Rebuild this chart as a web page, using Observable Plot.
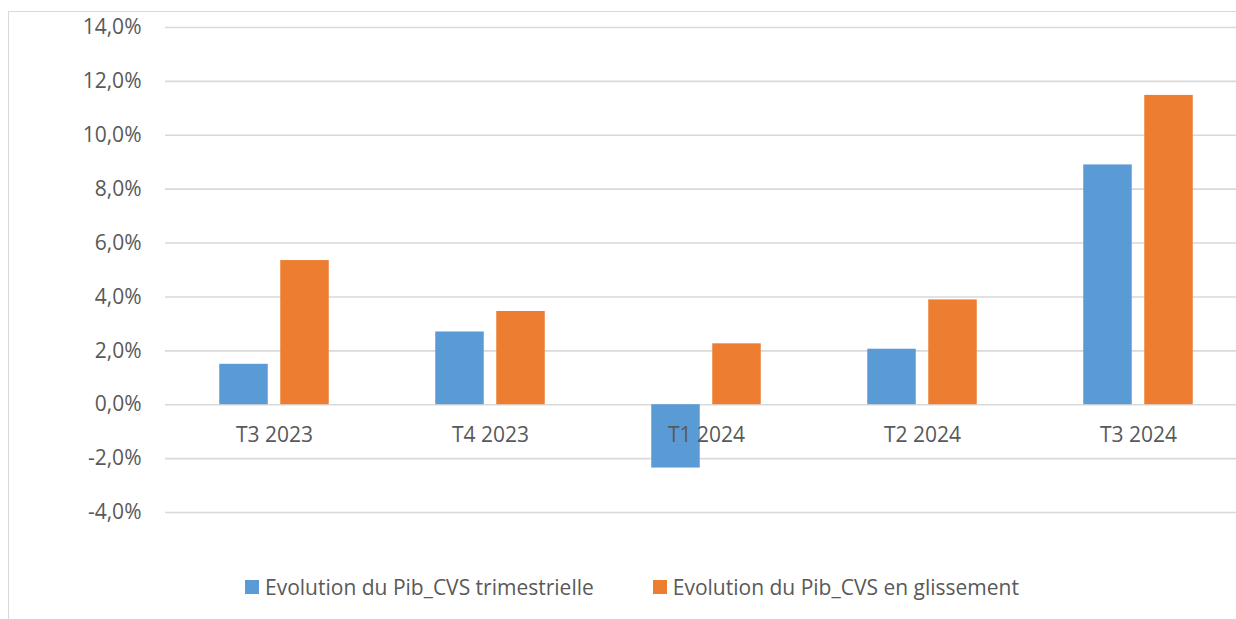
<!DOCTYPE html>
<html>
<head>
<meta charset="utf-8">
<script src="https://cdn.jsdelivr.net/npm/d3@7"></script>
<script src="https://cdn.jsdelivr.net/npm/@observablehq/plot@0.6"></script>
<style>
  html, body { margin: 0; padding: 0; background: #fff; }
  #wrap { position: relative; width: 1236px; height: 619px; overflow: hidden; font-family: "Open Sans", sans-serif; }
  #frame { position: absolute; left: 8px; top: 11px; width: 1300px; height: 700px; border-left: 1.5px solid #d9d9d9; border-top: 1.5px solid #d9d9d9; box-sizing: border-box; }
  #chart { position: absolute; left: 0; top: 0; }
  #legend { position: absolute; left: 245px; top: 573px; display: flex; align-items: center; font-size: 21px; color: #595959; white-space: nowrap; }
  .item { display: flex; align-items: center; }
  .sw { width: 14px; height: 14px; margin-right: 6px; }
</style>
</head>
<body>
<div id="wrap">
  <div id="frame"></div>
  <div id="chart"></div>
  <div id="legend"></div>
</div>
<script>
const categories = ["T3 2023", "T4 2023", "T1 2024", "T2 2024", "T3 2024"];
const seriesNames = ["Evolution du Pib_CVS trimestrielle", "Evolution du Pib_CVS en glissement"];
const trimestrielle = [1.5, 2.7, -2.35, 2.06, 8.9];
const glissement = [5.35, 3.46, 2.26, 3.89, 11.48];
const yTicks = [-4, -2, 0, 2, 4, 6, 8, 10, 12, 14];
const colors = ["#5b9bd5", "#ed7d31"];

const rowsA = categories.map((c, i) => ({cat: c, value: trimestrielle[i]}));
const rowsB = categories.map((c, i) => ({cat: c, value: glissement[i]}));
const fmt = d => d.toFixed(1).replace(".", ",") + "%";

const W = 1236;
const plot = Plot.plot({
  width: W,
  height: 560,
  marginLeft: 165,
  marginRight: -11,
  marginTop: 27,
  marginBottom: 48,
  style: {fontFamily: "'Open Sans', sans-serif", fontSize: "21px", color: "#595959", background: "transparent"},
  x: {domain: categories, padding: 0, axis: null},
  y: {domain: [-4, 14], ticks: yTicks, tickFormat: fmt, tickSize: 0, tickPadding: 24, label: null},
  marks: [
    Plot.ruleY(yTicks, {stroke: "#d9d9d9", strokeWidth: 1.6}),
    Plot.barY(rowsA, {x: "cat", y: "value", fill: colors[0], insetLeft: 53.25, insetRight: 114.25}),
    Plot.barY(rowsB, {x: "cat", y: "value", fill: colors[1], insetLeft: 114.25, insetRight: 53.25}),
    Plot.text(categories, {x: d => d, y: () => 0, dy: 31, fill: "#595959", fontSize: 21, text: d => d})
  ]
});
document.getElementById("chart").appendChild(plot);

const legend = document.getElementById("legend");
seriesNames.forEach((name, i) => {
  const item = document.createElement("div");
  item.className = "item";
  if (i > 0) item.style.marginLeft = "59px";
  const sw = document.createElement("div");
  sw.className = "sw";
  sw.style.background = colors[i];
  const t = document.createElement("span");
  t.textContent = name;
  item.appendChild(sw);
  item.appendChild(t);
  legend.appendChild(item);
});
</script>
</body>
</html>
